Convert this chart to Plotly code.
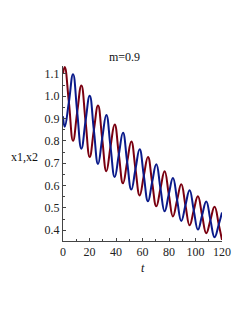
import plotly.graph_objects as go

# Samples: start, then peaks / crossings / troughs every quarter period
t = [0.0, 1.30, 4.44, 7.58, 10.72, 13.87, 17.01, 20.15, 23.29, 26.43, 29.57,
     32.72, 35.86, 39.00, 42.14, 45.28, 48.42, 51.57, 54.71, 57.85, 60.99,
     64.13, 67.27, 70.42, 73.56, 76.70, 79.84, 82.98, 86.12, 89.27, 92.41,
     95.55, 98.69, 101.83, 104.97, 108.12, 111.26, 114.40, 117.54, 120.0]

x1 = [1.100, 1.130, 0.973, 0.800, 0.929, 1.048, 0.888, 0.728, 0.848, 0.958, 0.810,
      0.664, 0.774, 0.873, 0.739, 0.610, 0.706, 0.797, 0.674, 0.556, 0.644,
      0.728, 0.615, 0.507, 0.587, 0.664, 0.561, 0.462, 0.536, 0.606, 0.512,
      0.422, 0.489, 0.552, 0.467, 0.387, 0.446, 0.505, 0.426, 0.357]

x2 = [0.910, 0.863, 0.973, 1.098, 0.929, 0.765, 0.888, 1.002, 0.848, 0.697, 0.810,
      0.916, 0.774, 0.638, 0.739, 0.836, 0.706, 0.582, 0.674, 0.762, 0.644,
      0.530, 0.615, 0.695, 0.587, 0.485, 0.561, 0.634, 0.536, 0.442, 0.512,
      0.579, 0.489, 0.403, 0.467, 0.529, 0.446, 0.369, 0.426, 0.480]

x_ticks = [0, 20, 40, 60, 80, 100, 120]
y_ticks = [0.4, 0.5, 0.6, 0.7, 0.8, 0.9, 1.0, 1.1]

RED = "#7A0010"
BLUE = "#0A1A8A"
SERIF = "Liberation Serif, Times New Roman, serif"

fig = go.Figure()
fig.add_trace(go.Scatter(x=t, y=x1, mode="lines", name="x1",
                         line=dict(color=RED, width=2, shape="spline", smoothing=1.3)))
fig.add_trace(go.Scatter(x=t, y=x2, mode="lines", name="x2",
                         line=dict(color=BLUE, width=2, shape="spline", smoothing=1.3)))

axis_common = dict(showgrid=False, zeroline=False, showline=True, linecolor="#444444",
                   linewidth=1, ticks="inside", ticklen=3, tickcolor="#444444",
                   tickfont=dict(family=SERIF, size=12, color="#222222"))

fig.update_layout(
    width=249, height=323,
    margin=dict(l=63, r=27, t=66, b=82),
    paper_bgcolor="white", plot_bgcolor="white",
    showlegend=False,
    title=dict(text="m=0.9", x=0.5, xref="container", xanchor="center",
               y=0.8235, yref="container", yanchor="middle",
               font=dict(family=SERIF, size=12, color="#111111")),
    xaxis=dict(range=[0, 120], tickvals=x_ticks, ticktext=[str(v) for v in x_ticks],
               minor=dict(dtick=10, ticks="inside", ticklen=2, tickcolor="#444444"),
               **axis_common),
    yaxis=dict(range=[0.352, 1.135], tickvals=y_ticks,
               ticktext=[f"{v:.1f}" for v in y_ticks],
               minor=dict(dtick=0.05, ticks="inside", ticklen=2, tickcolor="#444444"),
               **axis_common),
    annotations=[
        dict(text="x1,x2", xref="paper", yref="paper", x=-0.145, y=0.481,
             xanchor="right", yanchor="middle", showarrow=False,
             font=dict(family=SERIF, size=12, color="#111111")),
        dict(text="<i>t</i>", xref="paper", yref="paper", x=0.5, y=-0.155,
             xanchor="center", yanchor="middle", showarrow=False,
             font=dict(family=SERIF, size=12, color="#111111")),
    ],
)

fig.write_html("out.html", config={"displayModeBar": False},
               post_script="document.body.style.margin='0';document.body.style.padding='0';")
